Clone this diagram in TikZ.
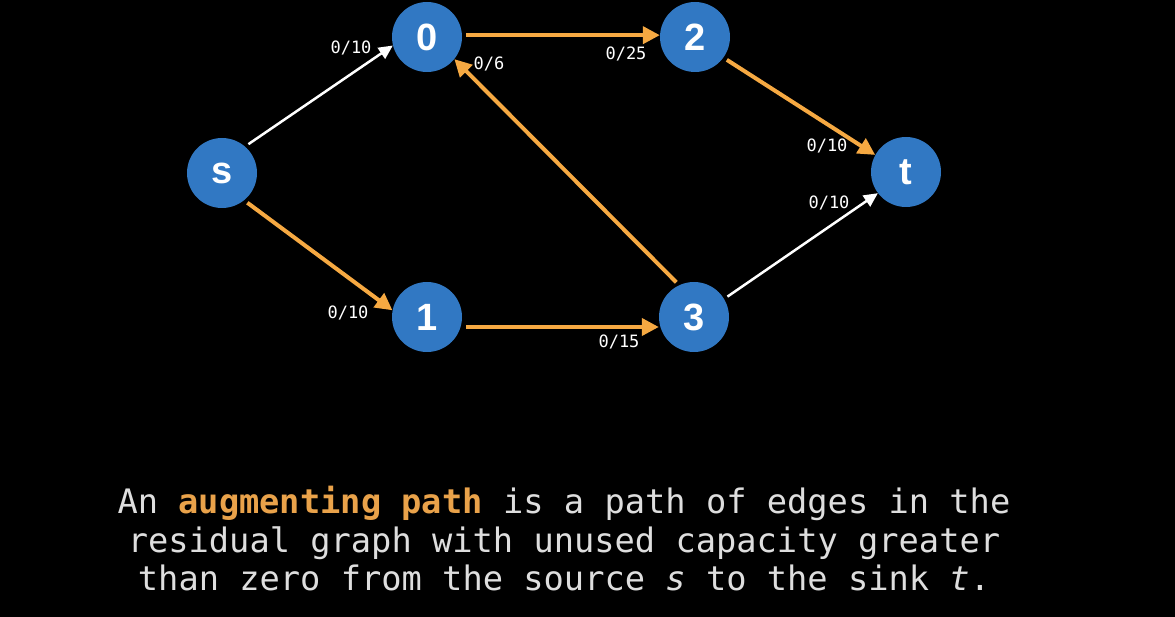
\documentclass[tikz,border=0pt]{standalone}
\usepackage{fontspec}
\setmainfont{Liberation Sans}
\newfontfamily\monofnt{DejaVu Sans Mono}
\usetikzlibrary{arrows.meta}
\definecolor{nodeblue}{HTML}{3178C3}
\definecolor{edgeorange}{HTML}{F6A942}
\definecolor{txtgrey}{HTML}{DEDEDE}
\definecolor{txtorange}{HTML}{E9A24A}
\tikzset{
  vert/.style={circle,fill=nodeblue,minimum size=70pt,inner sep=0pt,text=white,font=\fontsize{38}{38}\selectfont\bfseries},
  orangeedge/.style={draw=edgeorange,line width=4pt,-{Triangle[length=17pt,width=17pt]},shorten <=4pt},
  whiteedge/.style={draw=white,line width=2.5pt,-{Triangle[length=14pt,width=13pt]},shorten <=4pt},
  elabel/.style={text=white,font=\monofnt\fontsize{17}{17}\selectfont,inner sep=0pt},
  captext/.style={text=txtgrey,font=\monofnt\fontsize{33.7}{39}\selectfont,anchor=base,inner sep=0pt}
}
\begin{document}
\begin{tikzpicture}[x=1pt,y=-1pt]
\fill[black] (0,0) rectangle (1175,617);
\useasboundingbox (0,0) rectangle (1175,617);
\node[vert] (s) at (222,173) {s};
\node[vert] (n0) at (427,37) {0};
\node[vert] (n2) at (695,37) {2};
\node[vert] (t) at (906,172) {t};
\node[vert] (n1) at (427,317) {1};
\node[vert] (n3) at (694,317) {3};

\draw[whiteedge] (s.49) -- (n0.194);
\draw[orangeedge] (s.-51) -- (n1.169);
\draw[orangeedge] (n0.3) -- (n2.177);
\draw[orangeedge] (n2.-36) -- (t.151);
\draw[orangeedge] ([yshift=-10pt]n1.east) -- ([yshift=-10pt]n3.west);
\draw[orangeedge] (n3.115) -- (n0.-39);
\draw[whiteedge] (n3.31) -- (t.217);

\node[elabel] (l1) at (351,48) {0/10};
\node[elabel] (l2) at (489,64) {0/6};
\node[elabel] (l3) at (626,54) {0/25};
\node[elabel] (l4) at (827,146) {0/10};
\node[elabel] (l5) at (829,203) {0/10};
\node[elabel] (l6) at (348,313) {0/10};
\node[elabel] (l7) at (619,342) {0/15};

\node[captext] (c1) at (564,513) {An \textcolor{txtorange}{\bfseries augmenting path} is a path of edges in the};
\node[captext] (c2) at (564,552) {residual graph with unused capacity greater};
\node[captext] (c3) at (564,590) {than zero from the source \itshape s\upshape{} to the sink \itshape t\upshape.};
\end{tikzpicture}
\end{document}
